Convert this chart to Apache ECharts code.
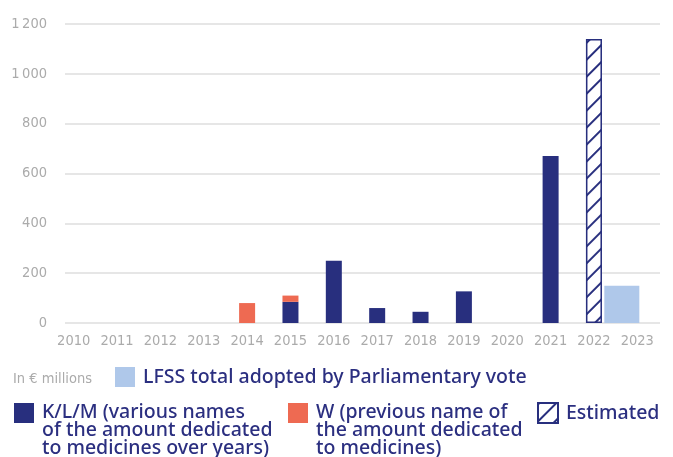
<!DOCTYPE html>
<html>
<head>
<meta charset="utf-8">
<script src="https://cdn.jsdelivr.net/npm/echarts@6/dist/echarts.min.js"></script>
<style>
  html, body { margin: 0; padding: 0; background: #ffffff; }
  #chart { width: 673px; height: 457px; }
</style>
</head>
<body>
<div id="chart"></div>
<script>
// Years on the horizontal axis
const years = ['2010', '2011', '2012', '2013', '2014', '2015', '2016',
               '2017', '2018', '2019', '2020', '2021', '2022', '2023'];

// Amounts in € millions, one entry per year (null = no bar)
const klmValues       = [null, null, null, null, null, 85, 250, 60, 45, 127, null, 670, null, null];
const wValues         = [null, null, null, null, 80, 25, null, null, null, null, null, null, null, null];
const estimatedValues = [null, null, null, null, null, null, null, null, null, null, null, null, 1140, null];
const lfssValues      = [null, null, null, null, null, null, null, null, null, null, null, null, null, 150];

// Value axis ticks
const yMin = 0, yMax = 1200, yStep = 200;

const NAVY = '#282f7e';
const ORANGE = '#ee6a52';
const LIGHT_BLUE = '#afc8ea';
const TEXT_NAVY = '#2b2f80';
const TICK_GREY = '#ababab';
const tickFont = '"Liberation Sans Narrow", "DejaVu Sans Condensed", sans-serif';
const legendFont = '"Noto Sans", "Open Sans", sans-serif';

const LINE_H = 18;

const chart = echarts.init(document.getElementById('chart'), null, { renderer: 'canvas' });

const legendText = {
  color: TEXT_NAVY,
  fontFamily: legendFont,
  fontSize: 19.5,
  fontWeight: 500,
  lineHeight: LINE_H,
  padding: [0, 0, 0, 3]
};

// Square swatch sitting at the top of an item that is `lines` text lines tall
function swatchIcon(lines) {
  const h = lines * LINE_H;
  return 'path://M0,0H20V20H0Z M0,' + h + 'H20';
}

function legendBlock(name, left, top, text) {
  const lines = text.split('\n').length;
  const block = {
    data: [name],
    left: left,
    top: top,
    orient: 'vertical',
    selectedMode: false,
    itemWidth: 20,
    itemHeight: 20,
    padding: 0,
    icon: 'rect',
    formatter: () => text,
    textStyle: legendText
  };
  if (lines > 1) {
    block.icon = swatchIcon(lines);
    block.itemHeight = lines * LINE_H;
  }
  return block;
}

const option = {
  animation: false,
  backgroundColor: '#ffffff',
  title: {
    text: 'In € millions',
    left: 13,
    top: 372,
    padding: 0,
    textStyle: { color: TICK_GREY, fontFamily: tickFont, fontSize: 14.5, fontWeight: 'normal' }
  },
  legend: [
    legendBlock('LFSS', 115, 367, 'LFSS total adopted by Parliamentary vote'),
    legendBlock('KLM', 14, 402, 'K/L/M (various names\nof the amount dedicated\nto medicines over years)'),
    legendBlock('W', 288, 402, 'W (previous name of\nthe amount dedicated\nto medicines)'),
    legendBlock('Estimated', 537, 402, 'Estimated')
  ],
  grid: [
    // bars
    { left: 52, right: 14, top: 24, bottom: 134 },
    // horizontal gridlines and value labels
    { left: 65, right: 13, top: 24, bottom: 134 },
    // LFSS bar, drawn slightly toward the 2022 column
    { left: 36.5, right: 29.5, top: 24, bottom: 134 }
  ],
  xAxis: [
    {
      type: 'category', gridIndex: 0, data: years,
      axisLine: { show: false }, axisTick: { show: false },
      axisLabel: { interval: 0, color: TICK_GREY, fontFamily: tickFont, fontSize: 14.5, margin: 11 }
    },
    { type: 'category', gridIndex: 1, data: years, show: false },
    { type: 'category', gridIndex: 2, data: years, show: false }
  ],
  yAxis: [
    { type: 'value', gridIndex: 0, min: yMin, max: yMax, interval: yStep, show: false },
    {
      type: 'value', gridIndex: 1, min: yMin, max: yMax, interval: yStep,
      axisLine: { show: false }, axisTick: { show: false },
      splitLine: { lineStyle: { color: '#dedede', width: 1.5 } },
      axisLabel: {
        color: TICK_GREY, fontFamily: tickFont, fontSize: 14.5, margin: 18,
        formatter: v => String(v).replace(/\B(?=(\d{3})+(?!\d))/g, '\u2009')
      }
    },
    { type: 'value', gridIndex: 2, min: yMin, max: yMax, interval: yStep, show: false }
  ],
  series: [
    {
      name: 'KLM', type: 'bar', stack: 'amount', xAxisIndex: 0, yAxisIndex: 0,
      barWidth: 16, data: klmValues,
      itemStyle: { color: NAVY }
    },
    {
      name: 'W', type: 'bar', stack: 'amount', xAxisIndex: 0, yAxisIndex: 0,
      barWidth: 16, data: wValues,
      itemStyle: { color: ORANGE }
    },
    {
      name: 'Estimated', type: 'bar', stack: 'amount', xAxisIndex: 0, yAxisIndex: 0,
      barWidth: 16, data: estimatedValues,
      itemStyle: {
        color: '#ffffff',
        borderColor: NAVY,
        borderWidth: 1.5,
        decal: {
          symbol: 'rect',
          symbolSize: 1,
          color: NAVY,
          backgroundColor: '#ffffff',
          dashArrayX: [1, 0],
          dashArrayY: [1.3, 10],
          rotation: -Math.PI / 4
        }
      }
    },
    {
      name: 'LFSS', type: 'bar',
      xAxisIndex: 2, yAxisIndex: 2,
      barWidth: 35, data: lfssValues,
      itemStyle: { color: LIGHT_BLUE }
    }
  ]
};

chart.setOption(option);
</script>
</body>
</html>
